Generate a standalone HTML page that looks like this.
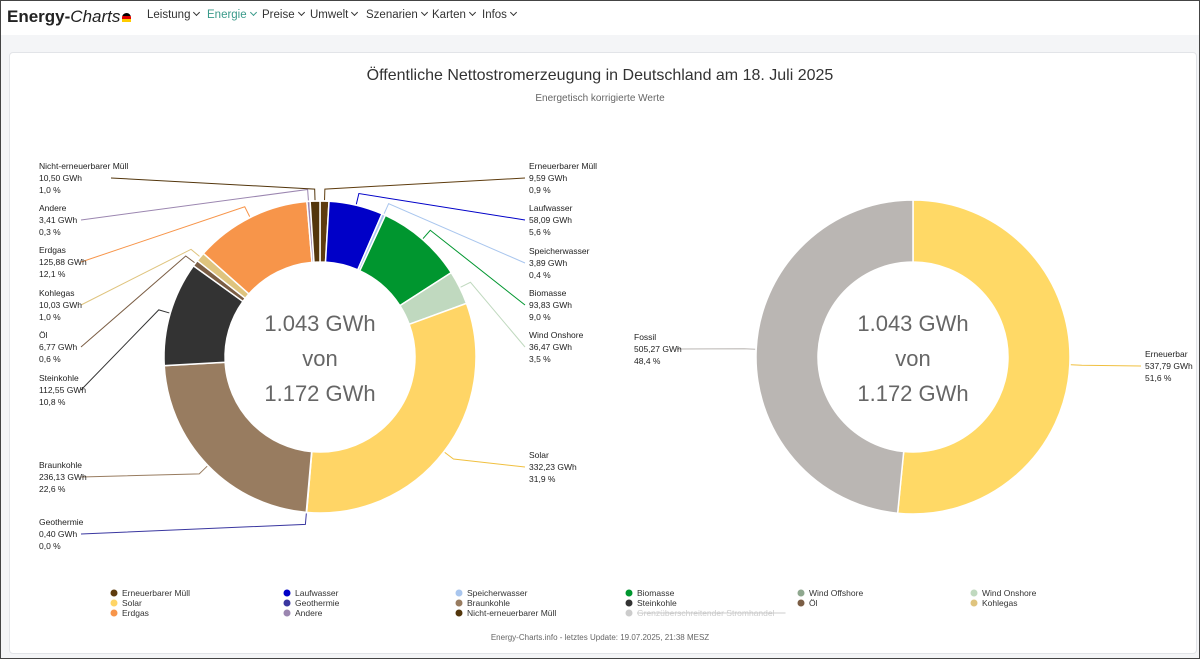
<!DOCTYPE html>
<html><head><meta charset="utf-8"><style>
body{margin:0;width:1200px;height:659px;overflow:hidden;background:#f4f5f7;font-family:"Liberation Sans",sans-serif;position:relative}
#frame{position:absolute;left:0;top:0;width:1198px;height:657px;border:1px solid #444;pointer-events:none}
#nav{position:absolute;left:0;top:0;width:1200px;height:35px;background:#fff}
.logo{position:absolute;left:7px;top:7px;font-size:17px;font-weight:bold;color:#222;white-space:nowrap}
.logo i{font-weight:normal;color:#222}
.menu{position:absolute;top:9px;font-size:11.5px;color:#333;white-space:nowrap}
.menu b{display:inline-block;width:4px;height:4px;border-right:1.2px solid currentColor;border-bottom:1.2px solid currentColor;transform:rotate(45deg);margin-left:4px;position:relative;top:-3px}
#card{position:absolute;left:9px;top:52px;width:1186px;height:600px;background:#fff;border:1px solid #e2e4e8;border-radius:4px}
svg{position:absolute;left:0;top:0}
</style></head><body>
<div id="nav">
<div class="logo">Energy-<i>Charts</i><span style="display:inline-block;width:9px;height:9px;border-radius:5px 5px 0 0;background:linear-gradient(#000 33%,#d00 33%,#d00 66%,#fc0 66%);margin-left:2px"></span></div>
<span class="menu" style="left:147px">Leistung<b></b></span>
<span class="menu" style="left:207px;color:#3a9a8a">Energie<b></b></span>
<span class="menu" style="left:262px">Preise<b></b></span>
<span class="menu" style="left:310px">Umwelt<b></b></span>
<span class="menu" style="left:366px">Szenarien<b></b></span>
<span class="menu" style="left:432px">Karten<b></b></span>
<span class="menu" style="left:482px">Infos<b></b></span>
</div>
<div id="card"></div>
<svg id="chart" width="1200" height="659" font-family="Liberation Sans, sans-serif"></svg>
<div id="frame"></div>
<script>
const names=["Erneuerbarer Müll","Laufwasser","Speicherwasser","Biomasse","Wind Offshore","Wind Onshore","Solar","Geothermie","Braunkohle","Steinkohle","Öl","Kohlegas","Erdgas","Andere","Nicht-erneuerbarer Müll"];
const values=[9.59,58.09,3.89,93.83,0,36.47,332.23,0.40,236.13,112.55,6.77,10.03,125.88,3.41,10.50];
const percents=["0,9","5,6","0,4","9,0","0,0","3,5","31,9","0,0","22,6","10,8","0,6","1,0","12,1","0,3","1,0"];
const colors=["#5e3c0e","#0000c8","#a9c6ee","#00962f","#8fa88f","#c0d9bf","#ffd566","#3a37a0","#987c60","#333333","#7b5e45","#dfc47e","#f7954a","#9b86b0","#53360c"];
const sumNames=["Erneuerbar","Fossil"];
const sumValues=[537.79,505.27];
const sumPercents=["51,6","48,4"];
const sumColors=["#ffd966","#bab6b3"];
const legendNames=["Erneuerbarer Müll","Laufwasser","Speicherwasser","Biomasse","Wind Offshore","Wind Onshore","Solar","Geothermie","Braunkohle","Steinkohle","Öl","Kohlegas","Erdgas","Andere","Nicht-erneuerbarer Müll","Grenzüberschreitender Stromhandel"];
const legendColors=["#5e3c0e","#0000c8","#a9c6ee","#00962f","#8fa88f","#c0d9bf","#ffd566","#3a37a0","#987c60","#333333","#7b5e45","#dfc47e","#f7954a","#9b86b0","#53360c","#cccccc"];

const NS="http://www.w3.org/2000/svg",svg=document.getElementById('chart');
function mk(t,a,p){const e=document.createElementNS(NS,t);for(const k in a)e.setAttribute(k,a[k]);(p||svg).appendChild(e);return e}
function fmt(v){return v.toFixed(2).replace('.',',')+' GWh'}
function pt(cx,cy,r,a){return [cx+r*Math.sin(a),cy-r*Math.cos(a)]}
function arc(cx,cy,R,r,a0,a1){const l=a1-a0>Math.PI?1:0;const p1=pt(cx,cy,R,a0),p2=pt(cx,cy,R,a1),p3=pt(cx,cy,r,a1),p4=pt(cx,cy,r,a0);
return `M${p1}A${R},${R} 0 ${l} 1 ${p2}L${p3}A${r},${r} 0 ${l} 0 ${p4}Z`}
function text(x,y,s,size,fill,anchor){const t=mk('text',{x:x,y:y,'font-size':size,fill:fill||'#333','text-anchor':anchor||'start'});t.textContent=s;return t}

let t=text(600,80,'Öffentliche Nettostromerzeugung in Deutschland am 18. Juli 2025',16,'#333','middle');


t=text(600,101,'Energetisch korrigierte Werte',10,'#666','middle');



const leftAnch={"Nicht-erneuerbarer Müll":[39,178],"Andere":[39,220],"Erdgas":[39,262],"Kohlegas":[39,305],"Öl":[39,347],"Steinkohle":[39,390],"Braunkohle":[39,477],"Geothermie":[39,534]};
const rightAnch={"Erneuerbarer Müll":[529,178],"Laufwasser":[529,220],"Speicherwasser":[529,263],"Biomasse":[529,305],"Wind Onshore":[529,347],"Solar":[529,467]};

function donut(cx,cy,R,r,vals,cols,nms,pcts,anch,key){
  const tot=vals.reduce((a,b)=>a+b,0);let a=0;
  const g=mk('g',{});
  
  
  vals.forEach((v,i)=>{
    const a1=a+v/tot*2*Math.PI;
    if(v>0){const p=mk('path',{d:arc(cx,cy,R,r,a,a1),fill:cols[i],stroke:'#fff','stroke-width':1.5},g);
      
      }
    const an=anch(nms[i]);
    if(an){const m=(a+a1)/2;const [x,y,right]=an;
      const e=pt(cx,cy,R+1,m),b=pt(cx,cy,R+12,m);
      const lx=right?x-4:x+(nms[i].length>12?(key==='sum'?60:72):42);
      const ln=mk('polyline',{points:`${lx},${y} ${b[0]},${b[1]} ${e[0]},${e[1]}`,fill:'none',stroke:cols[i]==='#ffd566'||cols[i]==='#ffd966'?'#f0c040':cols[i],'stroke-width':1});
      
      
      const lg=mk('g',{});
      
      
      [nms[i],fmt(v),pcts[i]+' %'].forEach((s,k)=>{const tt=text(x,y-9+k*12,s,8.5,'#222');lg.appendChild(tt)});
    }
    a=a1;});
  ['1.043 GWh','von','1.172 GWh'].forEach((s,k)=>{const tt=text(cx,cy-26+k*35,s,22,'#666','middle');});
}
donut(320,357,156,95,values,colors,names,percents,n=>{if(leftAnch[n])return[...leftAnch[n],false];if(rightAnch[n])return[...rightAnch[n],true];return null},'detail');
donut(913,357,157,95,sumValues,sumColors,sumNames,sumPercents,n=>n==='Fossil'?[634,349,false]:[1145,366,true],'sum');

const colX=[110,283,455,625,797,970];
legendNames.forEach((n,i)=>{const c=i%6,rw=Math.floor(i/6);const g=mk('g',{});
  
  
  const x=colX[c],y=593+rw*10;
  mk('circle',{cx:x+4,cy:y,r:3.5,fill:legendColors[i]},g);
  const tt=text(x+12,y+3,n,8.5,i===15?'#ccc':'#333');g.appendChild(tt);
  if(i===15)mk('line',{x1:x+12,y1:y,x2:x+12+n.length*4.5,y2:y,stroke:'#ccc'},g);
});
t=text(600,640,'Energy-Charts.info - letztes Update: 19.07.2025, 21:38 MESZ',8,'#666','middle');


</script>
</body></html>
